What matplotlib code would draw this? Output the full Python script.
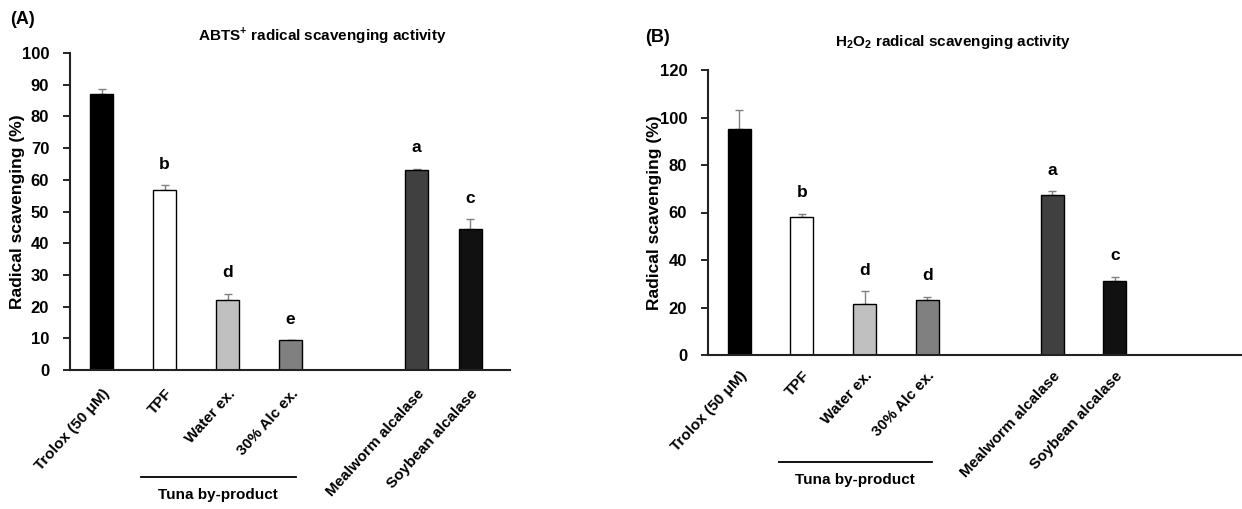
import numpy as np
import matplotlib
matplotlib.use('Agg')
import matplotlib.pyplot as plt
from matplotlib.transforms import blended_transform_factory

plt.rcParams['font.family'] = ['Liberation Sans', 'DejaVu Sans']
plt.rcParams['mathtext.fontset'] = 'custom'
plt.rcParams['mathtext.rm'] = 'Liberation Sans'
plt.rcParams['mathtext.bf'] = 'Liberation Sans:bold'

labels = ['Trolox (50 μM)', 'TPF', 'Water ex.', '30% Alc ex.',
          'Mealworm alcalase', 'Soybean alcalase']
colors = ['#000000', '#ffffff', '#c0c0c0', '#808080', '#404040', '#111111']

# (A) ABTS+
abts_mean = [87.0, 56.7, 22.0, 9.5, 63.0, 44.5]
abts_err = [1.5, 1.6, 2.1, 0.0, 0.5, 3.0]
abts_sig = ['', 'b', 'd', 'e', 'a', 'c']

# (B) H2O2
h2o2_mean = [95.0, 58.0, 21.5, 23.0, 67.5, 31.0]
h2o2_err = [8.0, 1.5, 5.5, 1.5, 1.5, 2.0]
h2o2_sig = ['', 'b', 'd', 'd', 'a', 'c']

pos_a = [0, 1, 2, 3, 5, 5.85]
pos_b = [0, 1, 2, 3, 5, 6]

W, H = 1242, 509
fig = plt.figure(figsize=(W / 100, H / 100), dpi=100)
ax1 = fig.add_axes([70 / W, 1 - 370 / H, 440 / W, 317 / H])
ax2 = fig.add_axes([708 / W, 1 - 355 / H, 534 / W, 285 / H])


def panel(ax, pos, mean, err, sig, ymax, step, xmax, ax_h, rot, lpad):
    ax.bar(pos, mean, width=0.37, color=colors, edgecolor='black', linewidth=1.0, zorder=2)
    ax.errorbar(pos, mean, yerr=[np.zeros(len(err)), err], fmt='none',
                ecolor='#808080', elinewidth=1.0, capsize=3, capthick=1.0, zorder=1)
    for x, m, e, s in zip(pos, mean, err, sig):
        if s:
            ax.annotate(s, (x, m + e), xytext=(0, 15), textcoords='offset points',
                        ha='center', va='center', fontsize=12.5, fontweight='bold')
    ax.set_ylim(0, ymax)
    ax.set_yticks(np.arange(0, ymax + 1, step))
    ax.set_xlim(-0.5, xmax)
    ax.set_xticks(pos)
    ax.set_xticklabels(labels, rotation=rot, ha='right', rotation_mode='anchor',
                       fontsize=11, fontweight='bold')
    ax.tick_params(axis='x', length=0, pad=lpad)
    ax.tick_params(axis='y', direction='out', length=5, width=1.2, labelsize=12, pad=10)
    for t in ax.get_yticklabels():
        t.set_fontweight('bold')
    for sp in ['top', 'right']:
        ax.spines[sp].set_visible(False)
    for sp in ['left', 'bottom']:
        ax.spines[sp].set_linewidth(1.5)
        ax.spines[sp].set_color('#222222')
    # tuna by-product bracket
    tr = blended_transform_factory(ax.transData, ax.transAxes)
    yl = -107 / ax_h
    yt = -125 / ax_h
    ax.plot([0.63, 3.08], [yl, yl], color='black', lw=1.3, transform=tr, clip_on=False)
    ax.text(1.85, yt, 'Tuna by-product', transform=tr, ha='center', va='center',
            fontsize=11, fontweight='bold')


panel(ax1, pos_a, abts_mean, abts_err, abts_sig, 100, 10, 6.48, 317, 48, 12)
panel(ax2, pos_b, h2o2_mean, h2o2_err, h2o2_sig, 120, 20, 8.03, 285, 47, 10)

fig.text(17.5 / W, 1 - 212 / H, 'Radical scavenging (%)', rotation=90,
         ha='center', va='center', fontsize=12.5, fontweight='bold')
fig.text(655 / W, 1 - 213 / H, 'Radical scavenging (%)', rotation=90,
         ha='center', va='center', fontsize=12.5, fontweight='bold')

fig.text(322 / W, 1 - 35 / H, r'ABTS$^{\mathbf{+}}$ radical scavenging activity',
         ha='center', va='center', fontsize=11, fontweight='bold')
fig.text(953 / W, 1 - 42 / H, r'$\mathbf{H_2O_2}$ radical scavenging activity',
         ha='center', va='center', fontsize=11, fontweight='bold')
fig.text(10 / W, 1 - 20 / H, '(A)', ha='left', va='center', fontsize=13, fontweight='bold')
fig.text(645 / W, 1 - 38 / H, '(B)', ha='left', va='center', fontsize=13, fontweight='bold')

fig.savefig('out.png', dpi=100)
